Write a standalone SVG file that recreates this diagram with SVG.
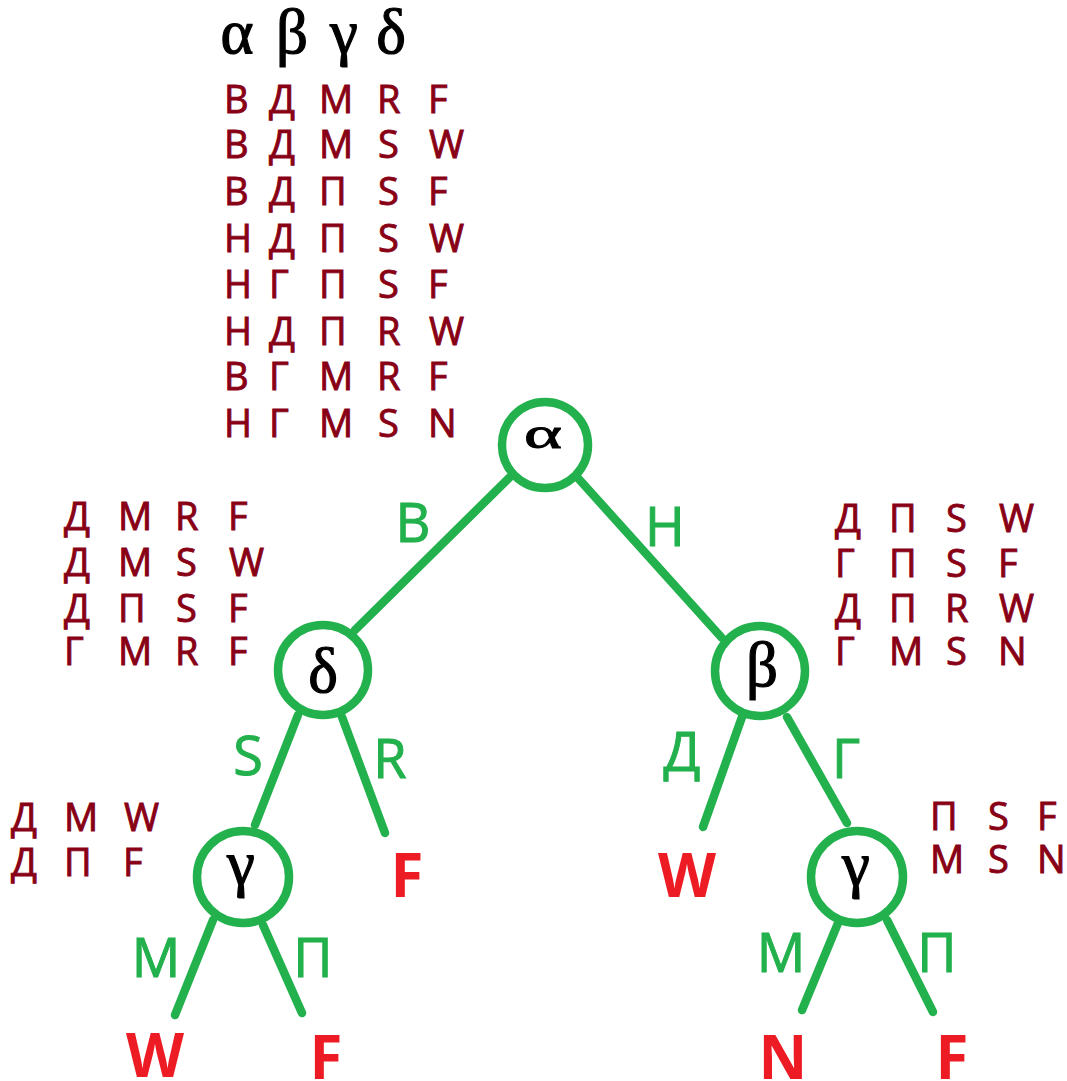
<svg xmlns="http://www.w3.org/2000/svg" width="1067" height="1081" viewBox="0 0 1067 1081">
  <style>
    .node { fill: #ffffff; stroke: #22B14C; stroke-width: 8.5; }
    .sym { font-family: "Liberation Serif", "DejaVu Serif", serif; font-size: 63px; fill: #000000; stroke: #000000; stroke-width: 1.2; text-anchor: middle; }
    .edge { stroke: #22B14C; stroke-width: 8.5; stroke-linecap: round; fill: none; }
    .elab { font-family: "Open Sans", "Noto Sans", sans-serif; font-size: 54px; fill: #22B14C; stroke: #22B14C; stroke-width: 1; text-anchor: middle; }
    .leaf { font-family: "Open Sans", "Noto Sans", sans-serif; font-size: 60px; font-weight: bold; fill: #ED1C24; text-anchor: middle; }
    .tbl { font-family: "Open Sans", "Noto Sans", sans-serif; font-size: 38px; fill: #880015; stroke: #880015; stroke-width: 0.9; }
  </style>
  <rect width="1067" height="1081" fill="#ffffff"/>

  <!-- attribute header -->
  <g id="header">
    <text class="sym" x="237" y="53">α</text>
    <text class="sym" x="292" y="53">β</text>
    <text class="sym" x="344" y="53">γ</text>
    <text class="sym" x="391" y="53">δ</text>
  </g>

  <!-- full training set -->
  <g id="table-all" class="tbl">
    <text x="224 269 319 377 428" y="113">ВДМRF</text>
    <text x="224 269 319 378 429" y="158">ВДМSW</text>
    <text x="224 269 319 378 428" y="205">ВДПSF</text>
    <text x="224 269 319 378 429" y="252">НДПSW</text>
    <text x="224 269 319 378 428" y="298">НГПSF</text>
    <text x="224 269 319 377 429" y="345">НДПRW</text>
    <text x="224 269 319 377 428" y="390">ВГМRF</text>
    <text x="224 269 319 378 428" y="437">НГМSN</text>
  </g>

  <!-- subset for branch В -->
  <g id="table-b" class="tbl">
    <text x="64 118 175 228" y="530">ДМRF</text>
    <text x="64 118 176 229" y="576">ДМSW</text>
    <text x="64 118 176 228" y="622">ДПSF</text>
    <text x="64 118 175 228" y="665">ГМRF</text>
  </g>

  <!-- subset for branch Н -->
  <g id="table-h" class="tbl">
    <text x="835 889 946 999" y="532">ДПSW</text>
    <text x="835 889 946 998" y="577">ГПSF</text>
    <text x="835 889 945 999" y="622">ДПRW</text>
    <text x="835 889 946 998" y="665">ГМSN</text>
  </g>

  <!-- subset for branch В/S -->
  <g id="table-bs" class="tbl">
    <text x="11 64 124" y="831">ДМW</text>
    <text x="11 64 123" y="876">ДПF</text>
  </g>

  <!-- subset for branch Н/Г -->
  <g id="table-hg" class="tbl">
    <text x="930 988 1037" y="830">ПSF</text>
    <text x="930 988 1037" y="873">МSN</text>
  </g>

  <!-- connectors -->
  <g id="connectors">
    <line class="edge" x1="510" y1="477" x2="355" y2="630"/>
    <line class="edge" x1="577" y1="477" x2="722" y2="638"/>
    <line class="edge" x1="298" y1="715" x2="255" y2="825"/>
    <line class="edge" x1="342" y1="717" x2="385" y2="833"/>
    <line class="edge" x1="742" y1="717" x2="703" y2="827"/>
    <line class="edge" x1="787" y1="717" x2="847" y2="823"/>
    <line class="edge" x1="213" y1="920" x2="175" y2="1015"/>
    <line class="edge" x1="263" y1="925" x2="302" y2="1013"/>
    <line class="edge" x1="838" y1="923" x2="802" y2="1010"/>
    <line class="edge" x1="887" y1="920" x2="933" y2="1012"/>
    <text class="elab" x="413" y="542">В</text>
    <text class="elab" x="665" y="546">Н</text>
    <text class="elab" x="248" y="775">S</text>
    <text class="elab" x="390" y="778">R</text>
    <text class="elab" x="682" y="771">Д</text>
    <text class="elab" x="846" y="778">Г</text>
    <text class="elab" x="156" y="977">М</text>
    <text class="elab" x="313" y="977">П</text>
    <text class="elab" x="781" y="972">М</text>
    <text class="elab" x="937" y="972">П</text>
  </g>

  <!-- decision nodes -->
  <g id="node-alpha">
    <circle class="node" cx="545" cy="445" r="43"/>
    <text class="sym" x="543" y="448" transform="translate(-81.45 125.4) scale(1.15 0.72)">α</text>
  </g>
  <g id="node-delta">
    <circle class="node" cx="323" cy="670" r="45"/>
    <text class="sym" x="323" y="692">δ</text>
  </g>
  <g id="node-beta">
    <circle class="node" cx="760" cy="671" r="45"/>
    <text class="sym" x="762" y="686">β</text>
  </g>
  <g id="node-gamma-left">
    <circle class="node" cx="243" cy="877" r="46"/>
    <text class="sym" x="241" y="884">γ</text>
  </g>
  <g id="node-gamma-right">
    <circle class="node" cx="857" cy="877" r="46"/>
    <text class="sym" x="856" y="885">γ</text>
  </g>

  <!-- leaves -->
  <g id="leaf-f1"><text class="leaf" x="407" y="897">F</text></g>
  <g id="leaf-w1"><text class="leaf" x="687" y="897">W</text></g>
  <g id="leaf-w2"><text class="leaf" x="155" y="1077">W</text></g>
  <g id="leaf-f2"><text class="leaf" x="326" y="1079">F</text></g>
  <g id="leaf-n"><text class="leaf" x="783" y="1079">N</text></g>
  <g id="leaf-f3"><text class="leaf" x="952" y="1079">F</text></g>
</svg>
